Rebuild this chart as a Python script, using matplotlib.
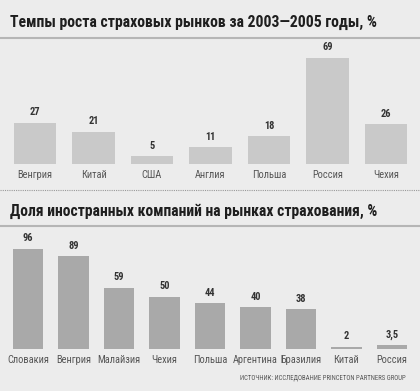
import matplotlib
matplotlib.use("Agg")
import matplotlib.pyplot as plt
from matplotlib.lines import Line2D

COND = ['Roboto Condensed', 'PT Sans Narrow', 'DejaVu Sans']
plt.rcParams['font.family'] = COND

title1 = "Темпы роста страховых рынков за 2003—2005 годы, %"
cats1 = ["Венгрия", "Китай", "США", "Англия", "Польша", "Россия", "Чехия"]
vals1 = [27, 21, 5, 11, 18, 69, 26]
labels1 = ["27", "21", "5", "11", "18", "69", "26"]

title2 = "Доля иностранных компаний на рынках страхования, %"
cats2 = ["Словакия", "Венгрия", "Малайзия", "Чехия", "Польша", "Аргентина", "Бразилия", "Китай", "Россия"]
vals2 = [96, 89, 59, 50, 44, 40, 38, 2, 3.5]
labels2 = ["96", "89", "59", "50", "44", "40", "38", "2", "3,5"]

source = "ИСТОЧНИК: ИССЛЕДОВАНИЕ PRINCETON PARTNERS GROUP"

W, H = 420, 391
BG = "#ececec"
fig = plt.figure(figsize=(W / 100, H / 100), dpi=100, facecolor=BG)

def px_axes(top, bottom):
    return fig.add_axes([0, (H - bottom) / H, 1, (bottom - top) / H])

def style(ax):
    ax.set_facecolor("none")
    ax.set_yticks([])
    ax.tick_params(axis="x", length=0, pad=4.5, labelsize=7.5, labelcolor="#555555")
    for s in ax.spines.values():
        s.set_visible(False)

# --- top chart
ax1 = px_axes(40, 164)
x1 = list(range(len(cats1)))
b1 = ax1.bar(x1, vals1, width=0.735, color="#c9c9c9", edgecolor="none")
ax1.set_xlim((0 - 35) / 58.5, (420 - 35) / 58.5)
ax1.set_ylim(0, 124 / 1.536)
ax1.bar_label(b1, labels=labels1, padding=4, fontsize=7.5, fontweight="bold", color="#333333")
ax1.set_xticks(x1, cats1)
style(ax1)

# --- bottom chart
ax2 = px_axes(230, 349)
x2 = list(range(len(cats2)))
b2 = ax2.bar(x2, vals2, width=0.66, color="#a9a9a9", edgecolor="none")
ax2.set_xlim((0 - 28) / 45.5, (420 - 28) / 45.5)
ax2.set_ylim(0, 119 / 1.042)
ax2.bar_label(b2, labels=labels2, padding=4, fontsize=7.5, fontweight="bold", color="#333333")
ax2.set_xticks(x2, cats2)
style(ax2)

# titles and rules
t1 = fig.text(10 / W, 1 - 22 / H, title1, ha="left", va="center", fontsize=12,
              fontweight="heavy", color="#1e1e1e")
t2 = fig.text(10 / W, 1 - 211 / H, title2, ha="left", va="center", fontsize=12,
              fontweight="heavy", color="#1e1e1e")
fig.add_artist(Line2D([0, 1], [1 - 38 / H] * 2, transform=fig.transFigure,
                      color="#b5b5b5", lw=1.5))
fig.add_artist(Line2D([0, 1], [1 - 226 / H] * 2, transform=fig.transFigure,
                      color="#b5b5b5", lw=1.5))
fig.add_artist(Line2D([0, 1], [1 - 190 / H] * 2, transform=fig.transFigure,
                      color="#999999", lw=0.8, linestyle=(0, (1, 1))))
src = fig.text(406 / W, 1 - 378 / H, source, ha="right", va="center", fontsize=5,
               color="#555555")

# fit title widths to the reference's measured pixel widths
r = fig.canvas.get_renderer()
for t, target in ((t1, 368), (t2, 368)):
    w = t.get_window_extent(r).width
    t.set_fontsize(t.get_fontsize() * target / w)
w = src.get_window_extent(r).width
src.set_fontsize(src.get_fontsize() * 167 / w)

fig.savefig("out.png", dpi=100, facecolor=BG)
